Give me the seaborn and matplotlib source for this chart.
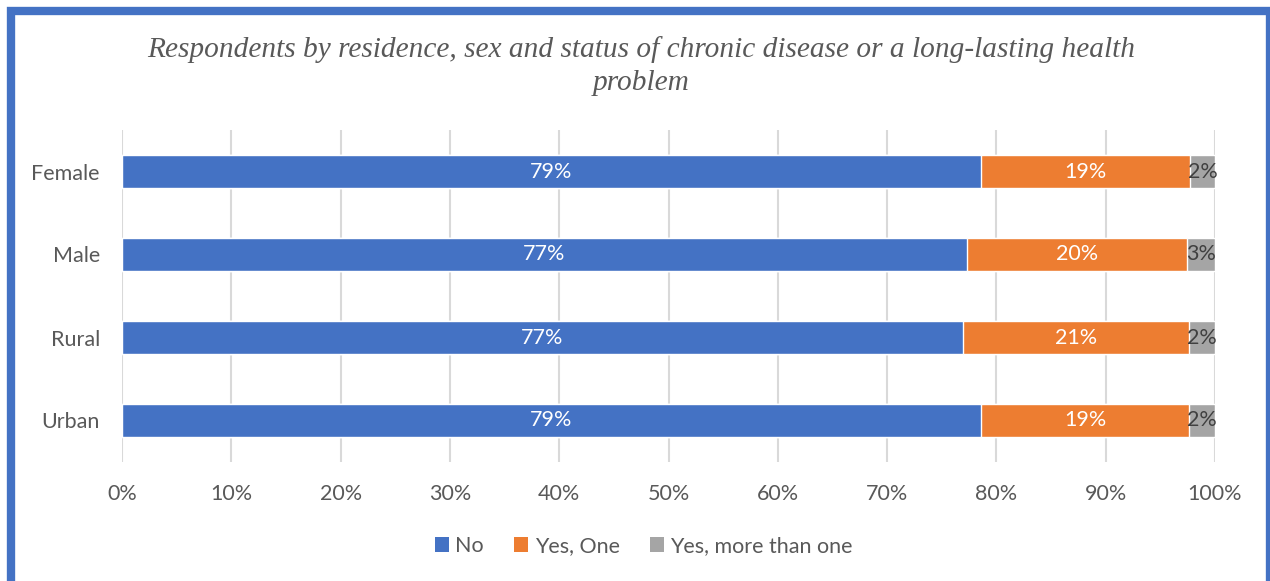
import matplotlib
matplotlib.use("Agg")
import matplotlib.pyplot as plt
from matplotlib.patches import Rectangle, Patch
import numpy as np
import pandas as pd
import seaborn as sns

# Share of respondents (%) by group
groups = ["Female", "Male", "Rural", "Urban"]
no_disease = [78.6, 77.3, 76.9, 78.6]
yes_one = [19.1, 20.1, 20.7, 19.0]
yes_more = [2.3, 2.6, 2.4, 2.4]
series_names = ["No", "Yes, One", "Yes, more than one"]
x_ticks = [0, 10, 20, 30, 40, 50, 60, 70, 80, 90, 100]

colors = ["#4472C4", "#ED7D31", "#A5A5A5"]
text_gray = "#595959"
fs = 15.5

sns.set_theme(style="white")
plt.rcParams["font.family"] = ["Lato", "DejaVu Sans"]

fig = plt.figure(figsize=(12.7, 5.81), dpi=100)
ax = fig.add_axes([122 / 1270, 1 - 462 / 581, (1215 - 122) / 1270, (462 - 130) / 581])

df = pd.DataFrame({"group": groups, "No": no_disease, "One": yes_one, "More": yes_more})
df["c1"] = df["No"]
df["c2"] = df["No"] + df["One"]
df["c3"] = df["c2"] + df["More"]

# Stacked bars drawn back-to-front from cumulative totals
for col, color in zip(["c3", "c2", "c1"], colors[::-1]):
    sns.barplot(data=df, x=col, y="group", orient="h", color=color,
                width=0.4, saturation=1, ax=ax, zorder=3)

# Segment labels
starts = [np.zeros(len(groups)), df["c1"].values, df["c2"].values]
vals = [df["No"].values, df["One"].values, df["More"].values]
label_colors = ["white", "white", "#404040"]
for s, v, lc in zip(starts, vals, label_colors):
    for i, (a, b) in enumerate(zip(s, v)):
        ax.text(a + b / 2, i, f"{b:.0f}%", ha="center", va="center",
                color=lc, fontsize=fs, zorder=4)

ax.set_xlim(0, 100)
ax.set_ylim(3.5, -0.5)
ax.set_xticks(x_ticks)
ax.set_xticklabels([f"{t}%" for t in x_ticks])
ax.set_xlabel("")
ax.set_ylabel("")
ax.grid(axis="x", color="#D9D9D9", linewidth=1.5, zorder=0)
ax.grid(axis="y", visible=False)
for sp in ax.spines.values():
    sp.set_visible(False)
ax.tick_params(axis="x", length=0, pad=16, labelsize=fs, labelcolor=text_gray)
ax.tick_params(axis="y", length=0, pad=16, labelsize=fs, labelcolor=text_gray)

# Title
fig.text(0.505, 1 - 66 / 581,
         "Respondents by residence, sex and status of chronic disease or a long-lasting health\nproblem",
         ha="center", va="center", fontsize=21.2, style="italic",
         family="Liberation Serif", color=text_gray, linespacing=1.38)

# Legend
handles = [Patch(facecolor=c, edgecolor="none", label=n) for c, n in zip(colors, series_names)]
fig.legend(handles=handles, loc="center", bbox_to_anchor=(0.507, 1 - 546 / 581),
           ncol=3, frameon=False, fontsize=fs, handlelength=0.65, handleheight=0.65,
           handletextpad=0.3, columnspacing=1.4, labelcolor=text_gray)

# Chart frame
fig.patches.append(Rectangle((11 / 1270, -9 / 581), (1270 - 11) / 1270, (590 - 11) / 581,
                             transform=fig.transFigure, fill=False,
                             edgecolor="#4472C4", linewidth=6))

fig.savefig("out.png", dpi=100)
